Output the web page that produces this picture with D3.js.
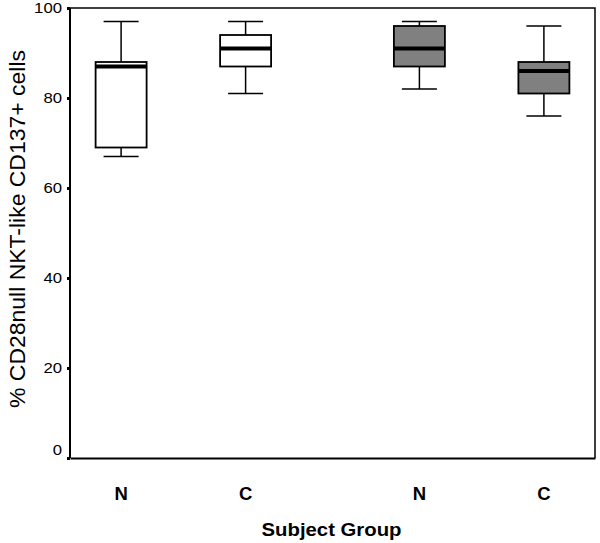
<!DOCTYPE html>
<html>
<head>
<meta charset="utf-8">
<script src="https://cdn.jsdelivr.net/npm/d3@7"></script>
<style>
  html, body { margin: 0; padding: 0; background: #fff; }
  svg { display: block; }
  text { font-family: "Liberation Sans", Arial, Helvetica, sans-serif; fill: #000; }
</style>
</head>
<body>
<svg id="chart" width="600" height="543"></svg>
<script>
// ---- data ----
const categories   = ["N", "C", "N", "C"];
const groupIndex   = [0, 0, 1, 1];
const whiskerLow   = [67, 81, 82, 76];
const q1           = [69, 87, 87, 81];
const median       = [87, 91, 91, 86];
const q3           = [88, 94, 96, 88];
const whiskerHigh  = [97, 97, 97, 96];
const yTicks       = [0, 20, 40, 60, 80, 100];
const yLabel       = "% CD28null NKT-like CD137+ cells";
const xLabel       = "Subject Group";

// ---- layout ----
const svg = d3.select("#chart");
const mLeft = 70, mRight = 595, mTop = 8, mBottom = 458;
const groupFills = ["#ffffff", "#808080"];

const y = d3.scaleLinear().domain([0, 100]).range([mBottom, mTop]);
const outer = d3.scaleBand().domain([0, 1]).range([mLeft, mRight])
  .paddingInner(0.3).paddingOuter(0.03);
const inner = d3.scalePoint().domain(["N", "C"]).range([0, outer.bandwidth()])
  .padding(0.3386);
const cx = i => outer(groupIndex[i]) + inner(categories[i]);

const boxW = 51, capW = 35;

const data = categories.map((c, i) => ({
  i, c, g: groupIndex[i], lo: whiskerLow[i], q1: q1[i], med: median[i], q3: q3[i], hi: whiskerHigh[i]
}));

// frame (top + right)
svg.append("path")
  .attr("d", `M${mLeft},${mTop}H${mRight}V${mBottom}`)
  .attr("fill", "none").attr("stroke", "#000").attr("stroke-width", 1.5);

// boxes
const g = svg.append("g");
data.forEach(d => {
  const x = cx(d.i);
  g.append("line").attr("x1", x).attr("x2", x).attr("y1", y(d.hi)).attr("y2", y(d.q3))
    .attr("stroke", "#000").attr("stroke-width", 1.5);
  g.append("line").attr("x1", x).attr("x2", x).attr("y1", y(d.q1)).attr("y2", y(d.lo))
    .attr("stroke", "#000").attr("stroke-width", 1.5);
  g.append("line").attr("x1", x - capW / 2).attr("x2", x + capW / 2).attr("y1", y(d.hi)).attr("y2", y(d.hi))
    .attr("stroke", "#000").attr("stroke-width", 1.5);
  g.append("line").attr("x1", x - capW / 2).attr("x2", x + capW / 2).attr("y1", y(d.lo)).attr("y2", y(d.lo))
    .attr("stroke", "#000").attr("stroke-width", 1.5);
  g.append("rect").attr("x", x - boxW / 2).attr("width", boxW)
    .attr("y", y(d.q3)).attr("height", y(d.q1) - y(d.q3))
    .attr("fill", groupFills[d.g]).attr("stroke", "#000").attr("stroke-width", 1.8);
  g.append("line").attr("x1", x - boxW / 2).attr("x2", x + boxW / 2).attr("y1", y(d.med)).attr("y2", y(d.med))
    .attr("stroke", "#000").attr("stroke-width", 4);
});

// y axis
const yAxis = d3.axisLeft(y).tickValues(yTicks).tickSize(3).tickPadding(5).tickFormat(d3.format("d"));
const ya = svg.append("g").attr("transform", `translate(${mLeft},0)`).call(yAxis);
ya.select(".domain").attr("stroke", "#000").attr("stroke-width", 2).attr("d", `M0,${mTop}V${mBottom}`);
ya.selectAll(".tick line").attr("stroke", "#000").attr("stroke-width", 3);
ya.selectAll(".tick text").attr("font-size", 14).attr("font-family", "Liberation Sans, Arial, sans-serif")
  .attr("dy", d => d === 0 ? "-0.25em" : "0.32em")
  .attr("textLength", d => String(d).length * 9.3)
  .attr("lengthAdjust", "spacingAndGlyphs");

// x axis baseline
const xAxis = d3.axisBottom(d3.scaleLinear().range([mLeft, mRight])).tickValues([]).tickSizeOuter(0);
const xa = svg.append("g").attr("transform", `translate(0,${mBottom})`).call(xAxis);
xa.select(".domain").attr("stroke", "#000").attr("stroke-width", 2);

// x category labels
svg.append("g").selectAll("text").data(data).join("text")
  .attr("x", d => cx(d.i)).attr("y", 500)
  .attr("text-anchor", "middle").attr("font-size", 18.5).attr("font-weight", "bold")
  .text(d => d.c);

// axis titles
svg.append("text").attr("x", 331.5).attr("y", 536)
  .attr("text-anchor", "middle").attr("font-size", 19).attr("font-weight", "bold")
  .attr("textLength", 140).attr("lengthAdjust", "spacingAndGlyphs")
  .text(xLabel);

svg.append("text").attr("transform", `translate(25,229) rotate(-90)`)
  .attr("text-anchor", "middle").attr("font-size", 22)
  .attr("textLength", 358).attr("lengthAdjust", "spacingAndGlyphs")
  .text(yLabel);
</script>
</body>
</html>
